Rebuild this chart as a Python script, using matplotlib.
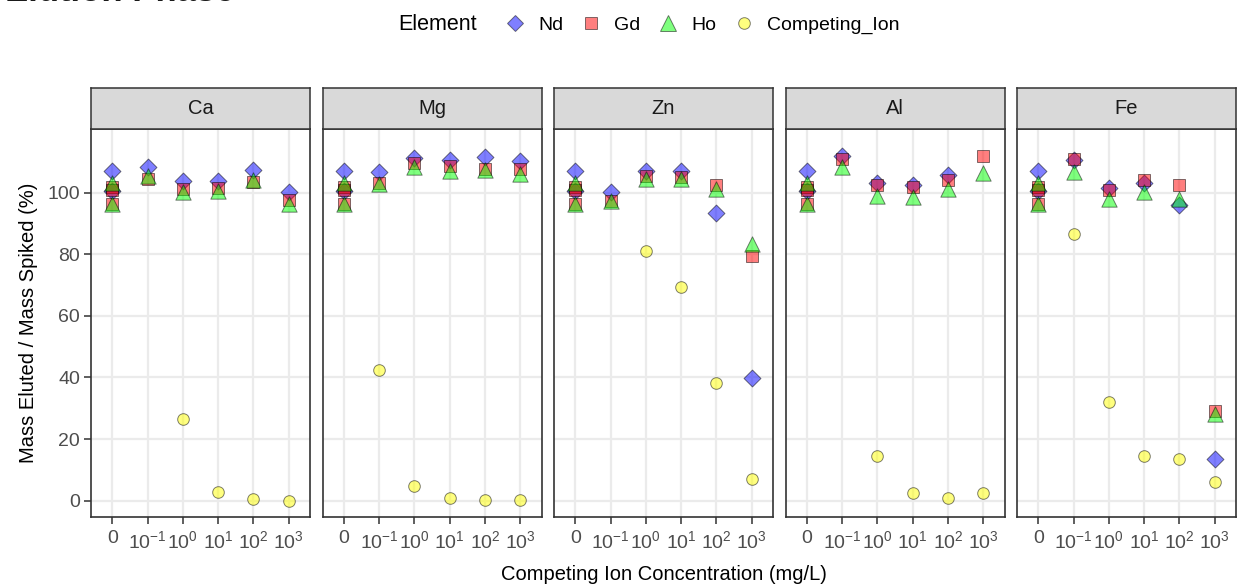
import numpy as np
import matplotlib.pyplot as plt
from matplotlib.lines import Line2D

plt.rcParams['font.family'] = ['Liberation Sans', 'DejaVu Sans']
plt.rcParams['mathtext.fontset'] = 'custom'
plt.rcParams['mathtext.rm'] = 'Liberation Sans'
plt.rcParams['mathtext.it'] = 'Liberation Sans:italic'
plt.rcParams['mathtext.bf'] = 'Liberation Sans:bold'

nan = np.nan

# categorias del eje x
conc_labels = ['0', '$10^{-1}$', '$10^{0}$', '$10^{1}$', '$10^{2}$', '$10^{3}$']
ions = ['Ca', 'Mg', 'Zn', 'Al', 'Fe']

# replicas del control (x = 0), iguales en todos los paneles
ctrl_nd = [107.0, 100.5]
ctrl_gd = [102.0, 100.8, 96.5]
ctrl_ho = [103.0, 96.5]

# filas: Ca, Mg, Zn, Al, Fe ; columnas: 10^-1 ... 10^3
nd = [[108.2, 103.7, 103.7, 107.5, 100.3],
      [106.7, 111.3, 110.5, 111.5, 110.3],
      [100.2, 107.2, 107.2, 93.5, 39.9],
      [111.9, 103.0, 102.4, 105.6, nan],
      [110.6, 101.6, 103.3, 96.0, 13.5]]
gd = [[104.5, 101.3, 101.5, 103.4, 97.8],
      [103.2, 109.8, 108.6, 107.6, 107.8],
      [97.4, 105.3, 105.2, 102.5, 79.6],
      [111.1, 102.4, 101.9, 104.1, 111.9],
      [111.1, 100.8, 104.1, 102.5, 29.2]]
ho = [[105.3, 100.2, 100.7, 104.0, 96.2],
      [102.8, 108.3, 107.2, 107.5, 106.2],
      [97.3, 104.3, 104.6, 101.3, 83.5],
      [108.2, 98.9, 98.6, 101.3, 106.5],
      [106.7, 98.0, 100.2, 98.1, 28.0]]
comp = [[nan, 26.5, 2.7, 0.4, 0.0],
        [42.4, 4.9, 0.8, 0.2, 0.2],
        [nan, 81.0, 69.4, 38.1, 6.9],
        [nan, 14.6, 2.6, 0.8, 2.6],
        [86.6, 32.1, 14.5, 13.5, 6.2]]

W, H = 1238, 584
edge = (0, 0, 0, 0.5)
styles = {
    'Nd': dict(marker='D', s=74, fc=(0, 0, 1, 0.5)),
    'Gd': dict(marker='s', s=84, fc=(1, 0, 0, 0.5)),
    'Ho': dict(marker='^', s=122, fc=(0, 1, 0, 0.5)),
    'Competing_Ion': dict(marker='o', s=70, fc=(1, 1, 0, 0.5)),
}

fig = plt.figure(figsize=(W / 100, H / 100), dpi=100)

xs = np.arange(1, 6)
for i, ion in enumerate(ions):
    left = 91 + i * 231.5
    ax = fig.add_axes([left / W, (H - 517.3) / H, 219 / W, 388 / H])
    sax = fig.add_axes([left / W, (H - 129.3) / H, 219 / W, 41 / H])

    # tira con el nombre del ion
    sax.set_facecolor('#D9D9D9')
    sax.set_xticks([])
    sax.set_yticks([])
    for sp in sax.spines.values():
        sp.set_color('#333333')
        sp.set_linewidth(1.1)
    sax.text(0.5, 0.5, ion, ha='center', va='center', fontsize=14.5,
             color='#1A1A1A', transform=sax.transAxes)

    series = [('Nd', ctrl_nd, nd[i]), ('Gd', ctrl_gd, gd[i]),
              ('Ho', ctrl_ho, ho[i]), ('Competing_Ion', [], comp[i])]
    for key, ctrl, vals in series:
        st = styles[key]
        xx = [0] * len(ctrl) + list(xs)
        yy = list(ctrl) + list(vals)
        ax.scatter(xx, yy, marker=st['marker'], s=st['s'], facecolor=st['fc'],
                   edgecolor=edge, linewidth=0.7, zorder=3)

    ax.set_xlim(-0.6, 5.6)
    ax.set_ylim(-5.4, 120.6)
    ax.set_xticks(range(6))
    ax.set_xticklabels(conc_labels)
    ax.set_yticks([0, 20, 40, 60, 80, 100])
    ax.set_axisbelow(True)
    ax.grid(color='#EBEBEB', linewidth=1.6)
    for sp in ax.spines.values():
        sp.set_color('#333333')
        sp.set_linewidth(1.2)
    ax.tick_params(axis='x', length=5, width=1.1, color='#333333',
                   labelsize=14, labelcolor='#4D4D4D', pad=4)
    if i == 0:
        ax.tick_params(axis='y', length=5, width=1.1, color='#333333',
                       labelsize=14, labelcolor='#4D4D4D', pad=3)
        ax.set_ylabel('Mass Eluted / Mass Spiked (%)', fontsize=14.5, labelpad=7)
    else:
        ax.tick_params(axis='y', length=0, labelleft=False)

fig.text((91 + 1236) / 2 / W, 1 - 574 / H, 'Competing Ion Concentration (mg/L)',
         ha='center', va='center', fontsize=14.5)

# titulo cortado arriba
fig.text(5 / W, 1 - 1 / H, 'Elution Phase', ha='left', va='baseline',
         fontsize=25, fontweight='bold', color='#1A1A1A')

# leyenda
fig.text(398 / W, 1 - 25 / H, 'Element', ha='left', va='center', fontsize=15.5)
handles = []
for key in ['Nd', 'Gd', 'Ho', 'Competing_Ion']:
    st = styles[key]
    handles.append(Line2D([], [], ls='', marker=st['marker'],
                          markersize=np.sqrt(st['s']), markerfacecolor=st['fc'],
                          markeredgecolor=edge, markeredgewidth=0.7, label=key))
fig.legend(handles=handles, loc='center left', ncol=4, frameon=False,
           bbox_to_anchor=(505.6 / W, 1 - 25 / H), borderpad=0, borderaxespad=0,
           handlelength=1.0, handletextpad=0.67, columnspacing=0.94, fontsize=14)

fig.savefig('out.png', dpi=100)
